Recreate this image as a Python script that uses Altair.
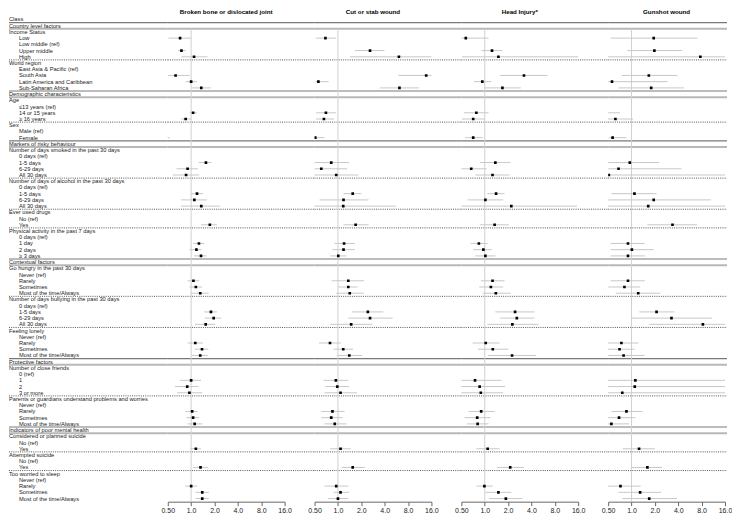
import altair as alt
import pandas as pd

labels = [
    "Class", "Country level factors", "Income Status", "Low", "Low middle (ref)", "Upper middle", "High",
    "World region", "East Asia & Pacific (ref)", "South Asia", "Latin America and Caribbean", "Sub-Saharan Africa",
    "Demographic characteristics", "Age", "\u226413 years (ref)", "14 or 15 years", "\u2265 16 years",
    "Sex", "Male (ref)", "Female",
    "Markers of risky behaviour", "Number of days smoked in the past 30 days", "0 days (ref)", "1-5 days", "6-29 days", "All 30 days",
    "Number of days of alcohol in the past 30 days", "0 days (ref)", "1-5 days", "6-29 days", "All 30 days",
    "Ever used drugs", "No (ref)", "Yes",
    "Physical activity in the past 7 days", "0 days (ref)", "1 day", "2 days", "\u2265 3 days",
    "Contextual factors", "Go hungry in the past 30 days", "Never (ref)", "Rarely", "Sometimes", "Most of the time/Always",
    "Number of days bullying in the past 30 days", "0 days (ref)", "1-5 days", "6-29 days", "All 30 days",
    "Feeling lonely", "Never (ref)", "Rarely", "Sometimes", "Most of the time/Always",
    "Protective factors", "Number of close friends", "0 (ref)", "1", "2", "3 or more",
    "Parents or guardians understand problems and worries", "Never (ref)", "Rarely", "Sometimes", "Most of the time/Always",
    "Indicators of poor mental health", "Considered or planned suicide", "No (ref)", "Yes",
    "Attempted suicide", "No (ref)", "Yes",
    "Too worried to sleep", "Never (ref)", "Rarely", "Sometimes", "Most of the time/Always",
]
header_rows = [1, 2, 3, 8, 13, 14, 18, 21, 22, 27, 32, 35, 40, 41, 46, 51, 56, 57, 62, 67, 68, 71, 74]
section_rows = [2, 13, 21, 40, 56, 67]
dotted_after = [7, 17, 26, 31, 34, 45, 50, 61, 70, 73]

outcomes = ["Broken bone or dislocated joint", "Cut or stab wound", "Head Injury*", "Gunshot wound"]

est_rows = [4, 6, 7, 10, 11, 12, 16, 17, 20, 24, 25, 26, 29, 30, 31, 34, 37, 38, 39,
            43, 44, 45, 48, 49, 50, 53, 54, 55, 59, 60, 61, 64, 65, 66, 70, 73, 76, 77, 78]

bone_or = [0.72, 0.75, 1.09, 0.63, 1.0, 1.35, 1.06, 0.85, 0.45, 1.55, 0.9, 0.86, 1.19, 1.1, 1.35, 1.74, 1.26, 1.17, 1.34,
           1.07, 1.15, 1.31, 1.8, 1.95, 1.54, 1.13, 1.38, 1.31, 1.0, 0.89, 0.95, 1.03, 1.06, 1.11, 1.15, 1.32, 1.0, 1.39, 1.39]
bone_lo = [0.51, 0.68, 0.75, 0.48, 0.85, 1.03, 0.96, 0.75, 0.4, 1.25, 0.65, 0.58, 1.0, 0.74, 0.74, 1.34, 1.06, 0.95, 1.09,
           0.9, 0.95, 0.98, 1.47, 1.5, 1.12, 0.9, 1.12, 1.02, 0.72, 0.62, 0.66, 0.84, 0.87, 0.9, 0.98, 1.06, 0.84, 1.14, 1.14]
bone_hi = [1.0, 0.85, 1.63, 0.96, 1.19, 1.79, 1.19, 1.0, 0.53, 1.83, 1.22, 1.27, 1.42, 1.6, 2.35, 2.15, 1.48, 1.36, 1.58,
           1.27, 1.39, 1.69, 2.15, 2.45, 2.04, 1.42, 1.67, 1.64, 1.34, 1.25, 1.39, 1.22, 1.27, 1.39, 1.34, 1.64, 1.2, 1.69, 1.69]

cut_or = [0.69, 2.59, 6.1, 13.7, 0.56, 6.2, 0.7, 0.66, 0.51, 0.82, 0.61, 0.95, 1.55, 1.18, 1.17, 1.69, 1.2, 1.18, 1.01,
          1.36, 1.36, 1.42, 2.43, 2.59, 1.48, 0.79, 1.17, 1.4, 0.94, 0.98, 1.08, 0.85, 0.82, 0.91, 1.08, 1.55, 0.95, 1.08, 1.0]
cut_lo = [0.52, 1.66, 1.43, 6.0, 0.52, 3.46, 0.52, 0.52, 0.48, 0.49, 0.49, 0.49, 1.18, 0.58, 0.49, 1.18, 0.9, 0.85, 0.8,
          0.83, 1.01, 0.95, 1.52, 1.36, 0.8, 0.57, 0.88, 0.98, 0.65, 0.69, 0.67, 0.61, 0.61, 0.67, 0.79, 1.12, 0.67, 0.88, 0.74]
cut_hi = [0.95, 3.97, 18.0, 18.0, 0.76, 11.1, 0.95, 0.89, 0.67, 1.39, 1.31, 1.83, 2.0, 2.48, 5.6, 2.48, 1.65, 1.65, 1.29,
          2.17, 1.79, 2.15, 3.84, 5.06, 2.77, 1.09, 1.57, 2.04, 1.36, 1.39, 1.75, 1.22, 1.15, 1.29, 1.47, 2.22, 1.36, 1.39, 1.36]

head_or = [0.57, 1.24, 1.5, 3.2, 0.93, 1.69, 0.78, 0.71, 0.71, 1.37, 0.67, 1.26, 1.4, 1.02, 2.2, 1.34, 0.84, 0.96, 1.02,
           1.26, 1.2, 1.39, 2.46, 2.59, 2.27, 1.03, 1.27, 2.25, 0.75, 0.86, 0.89, 0.9, 0.8, 0.81, 1.09, 2.13, 0.99, 1.5, 1.87]
head_lo = [0.49, 0.91, 0.51, 1.58, 0.73, 1.0, 0.54, 0.51, 0.56, 0.87, 0.49, 0.76, 1.08, 0.6, 0.49, 0.87, 0.66, 0.71, 0.76,
           0.89, 0.85, 0.94, 1.37, 1.58, 1.08, 0.7, 0.82, 1.1, 0.49, 0.49, 0.49, 0.62, 0.55, 0.59, 0.78, 1.45, 0.78, 1.02, 1.14]
head_hi = [1.12, 1.69, 18.0, 6.45, 1.21, 2.91, 1.12, 1.0, 0.94, 2.15, 1.06, 2.08, 1.8, 1.73, 15.4, 2.04, 1.09, 1.23, 1.37,
           1.8, 1.73, 2.15, 4.35, 4.35, 4.9, 1.55, 2.02, 4.6, 1.64, 1.83, 1.73, 1.34, 1.18, 1.12, 1.55, 3.22, 1.27, 2.2, 3.05]

gun_or = [1.93, 1.97, 7.7, 1.67, 0.56, 1.79, 0.45, 0.62, 0.57, 0.95, 0.68, 0.51, 1.09, 1.93, 1.64, 3.37, 0.9, 1.01, 0.9,
          0.9, 0.81, 1.22, 2.1, 3.27, 8.3, 0.74, 0.7, 0.79, 1.12, 1.1, 0.76, 0.86, 0.69, 0.55, 1.25, 1.6, 0.72, 1.29, 1.69]
gun_lo = [0.54, 0.88, 0.49, 0.75, 0.49, 0.68, 0.3, 0.49, 0.51, 0.49, 0.49, 0.49, 0.55, 0.49, 0.49, 1.6, 0.54, 0.54, 0.54,
          0.54, 0.49, 0.63, 1.26, 1.0, 1.69, 0.49, 0.49, 0.49, 0.49, 0.49, 0.49, 0.55, 0.49, 0.49, 0.77, 1.01, 0.49, 0.68, 0.76]
gun_hi = [7.1, 4.5, 18.0, 3.89, 2.91, 4.73, 0.71, 1.05, 0.86, 2.27, 4.4, 18.0, 2.1, 10.5, 18.0, 7.0, 1.48, 1.93, 1.48,
          1.48, 1.29, 2.35, 3.56, 10.9, 18.0, 1.22, 1.09, 1.48, 18.0, 18.0, 18.0, 1.39, 1.12, 0.93, 2.0, 2.48, 1.31, 2.4, 3.84]

tick_values = [0.5, 1, 2, 4, 8, 16]

N = len(labels)
H = 486
PW = 117
GAP = 30
LW = 129
FONT = "Liberation Sans"

yscale = alt.Scale(domain=[0.5, N + 0.5], reverse=True)
xscale = alt.Scale(type="log", base=2, domain=[0.5, 16])

sec_above = pd.DataFrame({"y": [r - 0.5 for r in section_rows]})
sec_below = pd.DataFrame({"y": [r + 0.5 for r in section_rows]})
dots = pd.DataFrame({"y": [r + 0.5 for r in dotted_after]})


def separators(width):
    base_y = alt.Y("y:Q", scale=yscale, axis=None)
    dark = alt.Chart(sec_above).mark_rule(color="#7a7a7a", strokeWidth=1.2).encode(
        y=base_y, x=alt.value(0), x2=alt.value(width))
    light = alt.Chart(sec_below).mark_rule(color="#b8b8b8", strokeWidth=2).encode(
        y=base_y, x=alt.value(0), x2=alt.value(width))
    dotted = alt.Chart(dots).mark_rule(color="#555555", strokeWidth=1, strokeDash=[1, 1.2]).encode(
        y=base_y, x=alt.value(0), x2=alt.value(width))
    return [light, dark, dotted]


lab_df = pd.DataFrame({
    "row": list(range(1, N + 1)),
    "label": labels,
    "head": [r in header_rows for r in range(1, N + 1)],
})
text_head = alt.Chart(lab_df).transform_filter("datum.head").mark_text(
    align="left", baseline="middle", font=FONT, fontSize=5.7, color="#222").encode(
    y=alt.Y("row:Q", scale=yscale, axis=None), x=alt.value(0), text="label:N")
text_item = alt.Chart(lab_df).transform_filter("!datum.head").mark_text(
    align="left", baseline="middle", font=FONT, fontSize=5.7, color="#222").encode(
    y=alt.Y("row:Q", scale=yscale, axis=None), x=alt.value(10), text="label:N")

label_panel = alt.layer(*separators(LW + GAP), text_head, text_item).properties(
    width=LW, height=H, title=alt.TitleParams(" ", fontSize=6.2, offset=1))

series = [(bone_or, bone_lo, bone_hi), (cut_or, cut_lo, cut_hi), (head_or, head_lo, head_hi), (gun_or, gun_lo, gun_hi)]

panels = [label_panel]
for i, (name, (o, lo, hi)) in enumerate(zip(outcomes, series)):
    df = pd.DataFrame({"row": est_rows, "or": o, "lo": lo, "hi": hi})
    ref = pd.DataFrame({"x": [1.0], "y": [2.5], "y2": [N + 0.5]})
    extend = GAP if i < 3 else 2
    refline = alt.Chart(ref).mark_rule(color="#d0d0d0", strokeWidth=1).encode(
        x=alt.X("x:Q", scale=xscale,
                axis=alt.Axis(values=tick_values, title=None, grid=False,
                              labelExpr="datum.value < 1 ? format(datum.value, '.2f') : format(datum.value, '.1f')",
                              labelFont=FONT, labelFontSize=7, labelColor="#222", labelPadding=1,
                              domainColor="#666", domainWidth=1, tickColor="#666", tickSize=4,
                              labelFlush=False, labelOverlap=False)),
        y=alt.Y("y:Q", scale=yscale, axis=None), y2="y2:Q")
    ci = alt.Chart(df).mark_rule(color="#c8c8c8", strokeWidth=1, clip=True).encode(
        x=alt.X("lo:Q", scale=xscale), x2="hi:Q", y=alt.Y("row:Q", scale=yscale, axis=None))
    pts = alt.Chart(df).mark_square(color="#000", size=7, opacity=1, clip=True).encode(
        x=alt.X("or:Q", scale=xscale), y=alt.Y("row:Q", scale=yscale, axis=None))
    panel = alt.layer(*separators(PW + extend), refline, ci, pts).properties(
        width=PW, height=H,
        title=alt.TitleParams(name, fontSize=6.2, fontWeight="bold", font=FONT, color="#000",
                              anchor="middle", offset=1))
    panels.append(panel)

chart = alt.hconcat(*panels, spacing=GAP, bounds="flush").properties(
    padding={"left": 0, "top": 0, "right": 0, "bottom": 0}
).configure_view(stroke=None).configure_title(font=FONT)

chart.save("out.html", embed_options={"renderer": "svg", "actions": False})
